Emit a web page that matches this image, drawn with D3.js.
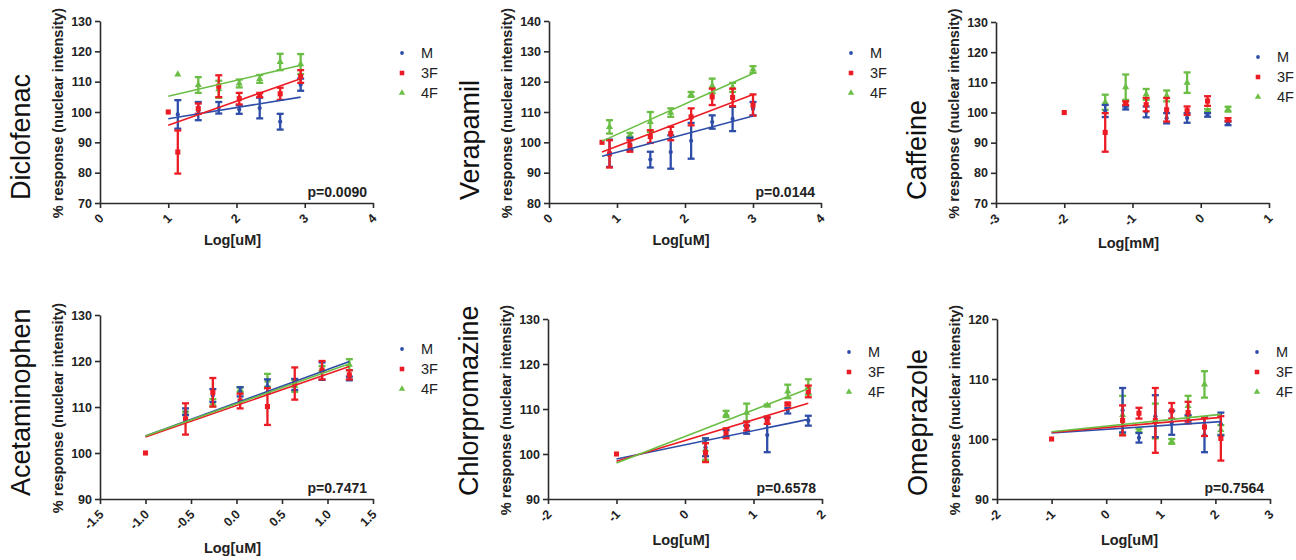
<!DOCTYPE html>
<html><head><meta charset="utf-8">
<script src="https://cdn.jsdelivr.net/npm/d3@7"></script>
<style>
body{margin:0;background:#fff}
svg{display:block}
text{font-family:"Liberation Sans", Arial, sans-serif}
</style>
</head><body>
<svg id="c" width="1296" height="560"></svg>
<script>
// ---------------- DATA ----------------
const drugNames = ["Diclofenac", "Verapamil", "Caffeine", "Acetaminophen", "Chlorpromazine", "Omeprazole"];
const xAxisTitles = ["Log[uM]", "Log[uM]", "Log[mM]", "Log[uM]", "Log[uM]", "Log[uM]"];
const yAxisTitle = "% response (nuclear intensity)";
const pValues = ["p=0.0090", "p=0.0144", "", "p=0.7471", "p=0.6578", "p=0.7564"];
const seriesNames = ["M", "3F", "4F"];
const seriesColors = ["#2E4DA8", "#EC1C24", "#6BBE45"];

const xDomains = [[0, 4], [0, 4], [-3, 1], [-1.5, 1.5], [-2, 2], [-2, 3]];
const yDomains = [[70, 130], [80, 140], [70, 130], [90, 130], [90, 130], [90, 120]];
const xTickValues = [[0, 1, 2, 3, 4], [0, 1, 2, 3, 4], [-3, -2, -1, 0, 1],
  [-1.5, -1.0, -0.5, 0.0, 0.5, 1.0, 1.5], [-2, -1, 0, 1, 2], [-2, -1, 0, 1, 2, 3]];
const xTickLabels = [["0", "1", "2", "3", "4"], ["0", "1", "2", "3", "4"], ["-3", "-2", "-1", "0", "1"],
  ["-1.5", "-1.0", "-0.5", "0.0", "0.5", "1.0", "1.5"], ["-2", "-1", "0", "1", "2"], ["-2", "-1", "0", "1", "2", "3"]];
const yTickValues = [[70, 80, 90, 100, 110, 120, 130], [80, 90, 100, 110, 120, 130, 140],
  [70, 80, 90, 100, 110, 120, 130], [90, 100, 110, 120, 130], [90, 100, 110, 120, 130], [90, 100, 110, 120]];

// control (normalised to 100) dose per drug
const controlX = [1.0, 0.78, -2.0, -1.0, -1.0, -1.0];
const controlY = 100;

// doses (log)
const dicloX = [1.14, 1.44, 1.74, 2.04, 2.34, 2.64, 2.94];
const veraX = [0.89, 1.19, 1.49, 1.79, 2.09, 2.40, 2.70, 3.00];
const caffX = [-1.40, -1.10, -0.80, -0.50, -0.20, 0.10, 0.40];
const acetX = [-0.56, -0.26, 0.04, 0.34, 0.64, 0.94, 1.24];
const chloX = [0.30, 0.60, 0.90, 1.20, 1.50, 1.80];
const omeX = [0.30, 0.60, 0.90, 1.20, 1.50, 1.80, 2.10];

// means [M, 3F, 4F] and SEM
const dicloMean = [[99.2, 100.3, 101.4, 100.8, 101.3, 96.8, 109.0],
                   [86.8, 101.1, 108.5, 104.4, 105.6, 106.0, 111.7],
                   [112.4, 108.9, 107.5, 109.4, 110.9, 116.5, 115.8]];
const dicloSem  = [[4.7, 3.0, 1.9, 1.4, 3.4, 2.6, 2.0],
                   [7.1, 1.7, 3.6, 1.9, 0.7, 2.0, 2.1],
                   [0, 2.6, 2.8, 1.3, 1.3, 2.7, 3.3]];
const veraMean = [[96.4, 99.5, 94.3, 96.8, 100.5, 106.7, 107.7, 111.1],
                  [96.2, 98.8, 101.9, 102.9, 108.4, 115.0, 114.8, 112.3],
                  [105.1, 102.4, 106.7, 109.8, 115.8, 118.6, 118.1, 124.0]];
const veraSem  = [[4.5, 2.0, 2.6, 5.5, 5.9, 2.2, 4.0, 2.2],
                  [4.5, 1.9, 2.1, 2.2, 2.8, 2.7, 2.9, 3.5],
                  [2.2, 0.7, 3.3, 1.4, 0.8, 2.4, 1.5, 1.1]];
const caffMean = [[100.5, 101.5, 100.2, 98.1, 98.2, 99.2, 96.4],
                  [93.4, 103.1, 102.6, 100.9, 100.6, 103.8, 97.6],
                  [103.4, 108.4, 106.0, 105.5, 109.9, 100.6, 101.1]];
const caffSem  = [[2.0, 0.5, 1.8, 1.7, 1.6, 0.6, 0.6],
                  [6.4, 0.6, 2.2, 3.9, 1.4, 1.6, 0.5],
                  [2.5, 4.2, 1.8, 1.8, 3.4, 0.5, 0.8]];
const acetMean = [[109.0, 112.5, 113.3, 114.5, 114.9, 117.8, 116.2],
                  [107.4, 113.2, 111.3, 110.1, 115.1, 118.0, 117.0],
                  [108.6, 110.9, 113.8, 115.8, 114.6, 118.3, 119.2]];
const acetSem  = [[0.7, 1.4, 1.0, 1.5, 1.2, 1.9, 0.4],
                  [3.4, 3.1, 1.6, 4.0, 3.5, 2.0, 1.0],
                  [0.4, 0.8, 0.5, 1.4, 1.3, 0.6, 1.2]];
const chloMean = [[101.5, 104.6, 105.4, 104.2, 109.6, 107.4],
                  [100.3, 104.6, 106.2, 107.5, 111.1, 113.9],
                  [101.0, 108.9, 109.2, 110.8, 113.9, 114.9]];
const chloSem  = [[2.0, 0.7, 0.9, 3.8, 0.6, 1.1],
                  [2.1, 1.1, 1.0, 0.8, 0.3, 1.3],
                  [2.3, 0.7, 2.0, 0.2, 1.5, 1.7]];
const omeMean = [[104.8, 100.2, 103.8, 102.7, 103.5, 100.7, 102.5],
                 [103.1, 104.3, 103.1, 104.7, 104.4, 102.0, 100.1],
                 [104.0, 101.4, 103.0, 99.6, 105.5, 109.1, 101.5]];
const omeSem  = [[3.7, 0.8, 3.5, 2.0, 0.5, 2.9, 1.9],
                 [2.5, 0.9, 5.4, 1.3, 1.8, 1.5, 3.7],
                 [3.2, 0.3, 2.9, 0.4, 1.7, 2.2, 0.8]];

// linear fits: value at control dose and at last dose, per series [M, 3F, 4F]
const dicloFit = [[97.8, 104.9], [95.6, 111.0], [105.2, 115.4]];
const veraFit  = [[95.4, 108.7], [96.8, 115.8], [100.4, 122.7]];
const caffFit  = null;
const acetFit  = [[103.7, 119.9], [103.5, 118.8], [103.7, 119.4]];
const chloFit  = [[98.9, 107.7], [98.4, 111.3], [98.0, 114.5]];
const omeFit   = [[101.0, 102.9], [101.1, 103.6], [101.2, 104.1]];

const panelX = [dicloX, veraX, caffX, acetX, chloX, omeX];
const panelMean = [dicloMean, veraMean, caffMean, acetMean, chloMean, omeMean];
const panelSem = [dicloSem, veraSem, caffSem, acetSem, chloSem, omeSem];
const panelFit = [dicloFit, veraFit, caffFit, acetFit, chloFit, omeFit];

// ---------------- LAYOUT ----------------
const frames = [
  {x0: 100, x1: 373, top: 21, bottom: 203, legX: 402, legY: 53, xlab: 42},
  {x0: 549, x1: 821, top: 21, bottom: 203, legX: 851, legY: 53, xlab: 42},
  {x0: 996, x1: 1269, top: 22, bottom: 203, legX: 1258, legY: 57, xlab: 45},
  {x0: 100, x1: 373, top: 315, bottom: 499, legX: 402, legY: 349, xlab: 54},
  {x0: 548, x1: 822, top: 319, bottom: 499, legX: 849, legY: 352, xlab: 46},
  {x0: 997, x1: 1270, top: 319, bottom: 499, legX: 1257, legY: 352, xlab: 46}
];
const axisColor = "#2b2b2b";
const textColor = "#222";
const symbolTypes = [d3.symbolCircle, d3.symbolSquare, d3.symbolTriangle];
const symbolSizes = [14, 26, 22];
const drawOrder = [2, 0, 1];

const svg = d3.select("#c");

drugNames.forEach((name, i) => {
  const f = frames[i];
  const g = svg.append("g");
  const x = d3.scaleLinear().domain(xDomains[i]).range([f.x0, f.x1]);
  const y = d3.scaleLinear().domain(yDomains[i]).range([f.bottom, f.top]);

  // axes
  const ya = g.append("g").attr("transform", `translate(${f.x0},0)`)
    .call(d3.axisLeft(y).tickValues(yTickValues[i]).tickSize(5).tickSizeOuter(0).tickPadding(3).tickFormat(d3.format("d")));
  const xa = g.append("g").attr("transform", `translate(0,${f.bottom})`)
    .call(d3.axisBottom(x).tickValues(xTickValues[i]).tickSize(5).tickSizeOuter(0)
      .tickFormat((d, j) => xTickLabels[i][j]));
  [ya, xa].forEach(a => {
    a.select(".domain").attr("stroke", axisColor).attr("stroke-width", 1.6);
    a.selectAll(".tick line").attr("stroke", axisColor).attr("stroke-width", 1.6);
    a.selectAll(".tick text").attr("fill", textColor).attr("font-size", 12.5).attr("font-weight", "bold")
      .attr("font-family", "'Liberation Sans', Arial, sans-serif");
  });
  xa.selectAll(".tick text")
    .attr("x", 0).attr("y", 0).attr("dy", 0)
    .attr("text-anchor", "end")
    .attr("transform", "translate(4,16) rotate(-45)");

  // drug title
  g.append("text").text(name)
    .attr("transform", `translate(${f.x0 - 70},${f.bottom - 3}) rotate(-90)`)
    .attr("font-size", 27).attr("fill", "#111").attr("text-anchor", "start");

  // y title
  g.append("text").text(yAxisTitle)
    .attr("transform", `translate(${f.x0 - 37},${(f.top + f.bottom) / 2 + 1}) rotate(-90)`)
    .attr("font-size", 14.5).attr("font-weight", "bold").attr("fill", textColor).attr("text-anchor", "middle");

  // x title
  g.append("text").text(xAxisTitles[i])
    .attr("x", (f.x0 + f.x1) / 2 - 4).attr("y", f.bottom + f.xlab)
    .attr("font-size", 14.5).attr("font-weight", "bold").attr("fill", textColor).attr("text-anchor", "middle");

  // p value
  if (pValues[i]) {
    g.append("text").text(pValues[i])
      .attr("x", f.x1 - 6).attr("y", f.bottom - 6)
      .attr("font-size", 14).attr("font-weight", "bold").attr("fill", textColor).attr("text-anchor", "end");
  }

  // data: error bars + markers
  const xs = panelX[i];
  drawOrder.forEach(s => {
    const col = seriesColors[s];
    const sg = g.append("g");
    xs.forEach((xv, k) => {
      const m = panelMean[i][s][k], e = panelSem[i][s][k];
      const px = x(xv);
      if (e > 0) {
        const y1 = y(m + e), y2 = y(m - e);
        sg.append("line").attr("x1", px).attr("x2", px).attr("y1", y1).attr("y2", y2)
          .attr("stroke", col).attr("stroke-width", 2.3);
        [y1, y2].forEach(yy => sg.append("line").attr("x1", px - 3.5).attr("x2", px + 3.5)
          .attr("y1", yy).attr("y2", yy).attr("stroke", col).attr("stroke-width", 2.3));
      }
      sg.append("path").attr("d", d3.symbol().type(symbolTypes[s]).size(symbolSizes[s])())
        .attr("transform", `translate(${px},${y(m)})`).attr("fill", col);
    });
  });
  // control point (3F shown on top)
  g.append("path").attr("d", d3.symbol().type(symbolTypes[1]).size(symbolSizes[1])())
    .attr("transform", `translate(${x(controlX[i])},${y(controlY)})`).attr("fill", seriesColors[1]);

  // fitted lines
  if (panelFit[i]) {
    [0, 1, 2].forEach(s => {
      const fit = panelFit[i][s];
      const pts = [[controlX[i], fit[0]], [xs[xs.length - 1], fit[1]]];
      g.append("path")
        .attr("d", d3.line().x(d => x(d[0])).y(d => y(d[1]))(pts))
        .attr("stroke", seriesColors[s]).attr("stroke-width", 1.6).attr("fill", "none");
    });
  }

  // legend
  seriesNames.forEach((sn, s) => {
    const ly = f.legY + s * 20;
    g.append("path").attr("d", d3.symbol().type(symbolTypes[s]).size(symbolSizes[s] * 0.8)())
      .attr("transform", `translate(${f.legX},${ly})`).attr("fill", seriesColors[s]);
    g.append("text").text(sn).attr("x", f.legX + 19).attr("y", ly)
      .attr("dominant-baseline", "central").attr("font-size", 14.5).attr("fill", textColor);
  });
});
</script>
</body></html>
